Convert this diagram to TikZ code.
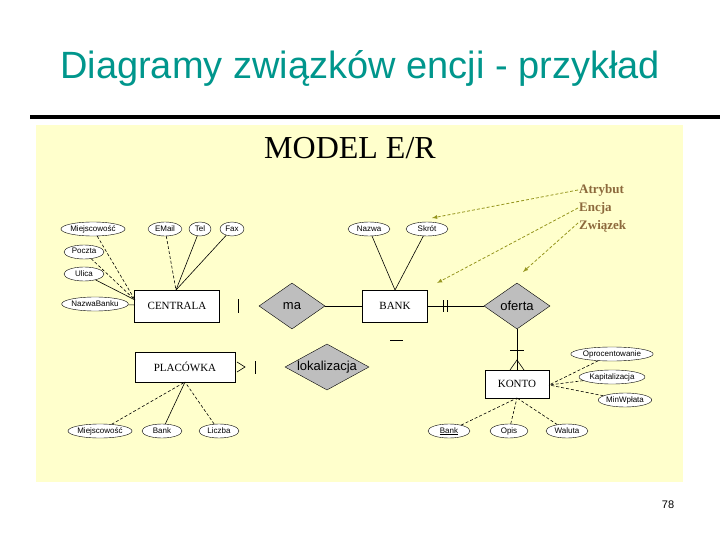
\documentclass[tikz,border=0pt]{standalone}
\usepackage{fontspec}
\setmainfont{Liberation Sans}
\newfontfamily\serif{Liberation Serif}
\usetikzlibrary{shapes.geometric}
\definecolor{teal1}{RGB}{0,150,140}
\definecolor{bgy}{RGB}{255,255,204}
\definecolor{olive1}{RGB}{150,150,30}
\definecolor{brown1}{RGB}{140,105,60}
\definecolor{dgray}{RGB}{190,190,190}
\begin{document}
\begin{tikzpicture}[x=1pt,y=-1pt,
 ent/.style={draw,fill=white,minimum width=#1,minimum height=30,inner sep=0,font=\serif\fontsize{11}{12}\selectfont},
 ent/.default=66,
 rel/.style={diamond,draw,fill=dgray,inner sep=0,minimum width=#1,minimum height=46},
 rtxt/.style={font=\fontsize{13}{14}\selectfont,inner sep=0},
 att/.style={ellipse,draw,fill=white,minimum width=#1,minimum height=14,inner sep=0,text height=6pt,text depth=2pt,font=\fontsize{8}{9}\selectfont},
 ln/.style={line width=0.6pt},
 dl/.style={line width=0.6pt,dashed,dash pattern=on 3pt off 2pt},
 arr/.style={olive1,line width=0.8pt,dashed,dash pattern=on 3pt off 2pt,-latex}]
\useasboundingbox (0,0) rectangle (720,540);
\node[teal1,font=\fontsize{38}{42}\selectfont] (title) at (360,68) {Diagramy związków encji - przykład};
\draw[line width=3.5pt] (30,117) -- (720,117);
\fill[bgy] (36,125) rectangle (683,482);
\node[font=\serif\fontsize{32}{34}\selectfont] (model) at (350,148) {MODEL E/R};
\node[brown1,font=\serif\bfseries\fontsize{13}{14}\selectfont,anchor=west,inner sep=1] (la) at (578,190) {Atrybut};
\node[brown1,font=\serif\bfseries\fontsize{13}{14}\selectfont,anchor=west,inner sep=1] (le) at (578,208) {Encja};
\node[brown1,font=\serif\bfseries\fontsize{13}{14}\selectfont,anchor=west,inner sep=1] (lz) at (578,226) {Związek};
% entities
\node[ent=85,minimum height=32] (cen) at (177,306) {CENTRALA};
\node[ent=65,minimum height=32] (bank) at (395,306) {BANK};
\node[ent=100] (pla) at (185,367) {PLACÓWKA};
\node[ent=64,minimum height=28] (kon) at (517,384) {KONTO};
% relationships
\node[rel=66] (ma) at (292,306) {};
\node[rtxt] (mat) at (292,306) {ma};
\node[rel=66] (of) at (517,306) {};
\node[rtxt] (oft) at (517,306) {oferta};
\node[rel=84] (lok) at (327,367) {};
\node[rtxt] (lokt) at (327,367) {lokalizacja};
% attributes
\node[att=58] (a1) at (93,229) {Miejscowość};
\node[att=40] (a2) at (84,252) {Poczta};
\node[att=40] (a3) at (84,274) {Ulica};
\node[att=58] (a4) at (95,304) {NazwaBanku};
\node[att=34] (a5) at (165,229) {EMail};
\node[att=22] (a6) at (200,229) {Tel};
\node[att=24] (a7) at (232,229) {Fax};
\node[att=42] (b1) at (369,229) {Nazwa};
\node[att=42] (b2) at (427,229) {Skrót};
\node[att=72] (k1) at (612,354) {Oprocentowanie};
\node[att=66] (k2) at (612,377) {Kapitalizacja};
\node[att=48] (k3) at (625,400) {MinWpłata};
\node[att=42] (k4) at (449,431) {\underline{Bank}};
\node[att=38] (k5) at (509,431) {Opis};
\node[att=42] (k6) at (567,431) {Waluta};
\node[att=58] (p1) at (100,431) {Miejscowość};
\node[att=40] (p2) at (162,431) {Bank};
\node[att=40] (p3) at (219,431) {Liczba};
% attribute lines
\coordinate (cl) at (135,300);
\coordinate (ct) at (176,290);
\draw[dl] (a1) -- (cl); \draw[dl] (a2) -- (cl); \draw[ln] (a3) -- (cl); \draw[ln] (a4) -- (cen);
\draw[dl] (a5) -- (ct); \draw[ln] (a6) -- (ct); \draw[ln] (a7) -- (ct);
\coordinate (bt) at (395,290);
\draw[ln] (b1) -- (bt); \draw[ln] (b2) -- (bt);
\coordinate (kr) at (549,385);
\draw[dl] (k1) -- (kr); \draw[dl] (k2) -- (kr); \draw[dl] (k3) -- (kr);
\coordinate (kb) at (517,398);
\draw[dl] (k4) -- (kb); \draw[dl] (k5) -- (kb); \draw[dl] (k6) -- (kb);
\coordinate (pb) at (185,382);
\draw[dl] (p1) -- (pb); \draw[ln] (p2) -- (pb); \draw[dl] (p3) -- (pb);
% relationship lines
\draw[ln] (ma) -- (bank);
\draw[ln] (bank) -- (of);
\draw[ln] (443,300) -- (443,312) (447,300) -- (447,312);
\draw[ln] (of) -- (kon);
\draw[ln] (510,350) -- (524,350);
\draw[ln] (510,370) -- (517,360) -- (524,370);
\draw[ln] (238,299) -- (238,313);
\draw[ln] (390,340) -- (403,340);
\draw[ln] (237,362) -- (245,367) -- (237,372);
\draw[ln] (255,361) -- (255,374);
% legend arrows
\draw[arr] (la.west) -- (432,218);
\draw[arr] (le.west) -- (437,283);
\draw[arr] ([yshift=3]lz.west) -- (523,272);
\node[font=\fontsize{11}{12}\selectfont] (pg) at (668,505) {78};
\end{tikzpicture}
\end{document}
